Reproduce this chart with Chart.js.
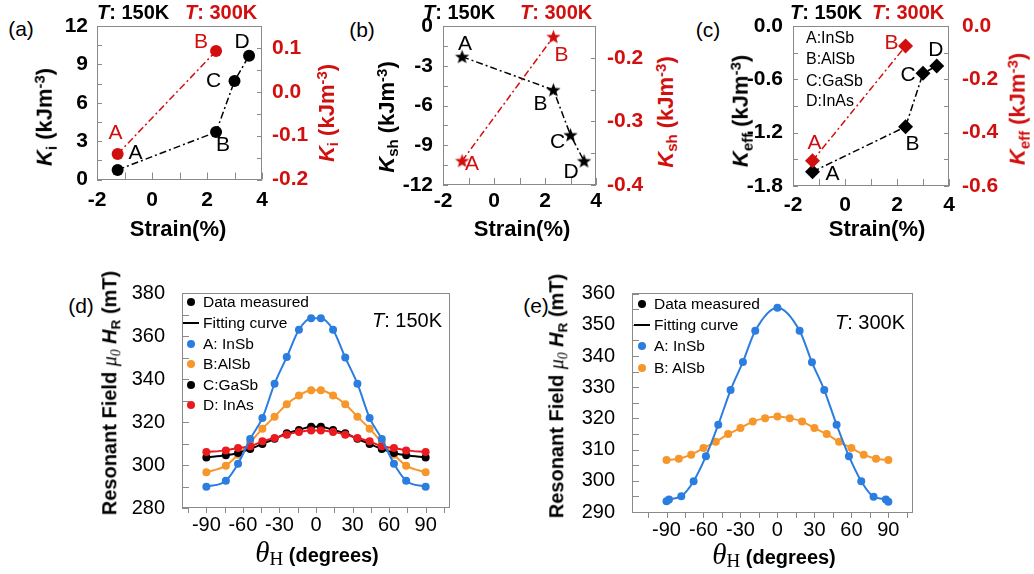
<!DOCTYPE html>
<html>
<head>
<meta charset="utf-8">
<script src="https://cdn.jsdelivr.net/npm/chart.js@4.4.0/dist/chart.umd.min.js"></script>
<style>
  html, body { margin: 0; padding: 0; background: #fff; }
  #fig { position: relative; width: 1034px; height: 574px; overflow: hidden; font-family: "Liberation Sans", Arial, sans-serif; color: #000; }
  #fig canvas { position: absolute; }
  .t { position: absolute; white-space: nowrap; line-height: 1; }
  .c { transform: translate(-50%, -50%); }
  .l { transform: translateY(-50%); }
  .rot { transform: translate(-50%, -50%) rotate(-90deg); }
  .red { color: #d20f0f; }
  .hd { font-size: 20px; font-weight: bold; }
  .pl { font-size: 21px; }
  .yt { font-size: 22px; font-weight: bold; }
  .xt { font-size: 22px; font-weight: bold; }
  .yt sub, .bt sub { font-size: 0.68em; vertical-align: -0.28em; }
  .yt sup { font-size: 0.68em; vertical-align: 0.5em; }
  .bt { font-size: 20px; font-weight: bold; }
  .mu { font-family: "Liberation Serif", "DejaVu Serif", serif; font-style: italic; font-weight: normal; }
  .th { font-family: "Liberation Serif", "DejaVu Serif", serif; font-style: italic; font-weight: normal; font-size: 29px; }
  .th sub { font-style: normal; font-size: 19px; vertical-align: -0.2em; }
  .leg { position: absolute; height: 20px; line-height: 20px; white-space: nowrap; font-size: 15.5px; }
  .mk { display: inline-block; width: 16px; height: 20px; position: relative; vertical-align: top; margin-right: 4px; }
  .dot::after { content: ""; position: absolute; left: 4px; top: 6px; width: 8px; height: 8px; border-radius: 50%; background: var(--c); }
  .bar::after { content: ""; position: absolute; left: 0; top: 9px; width: 16px; height: 2.5px; background: #000; }
  .kl { position: absolute; font-size: 16px; white-space: nowrap; line-height: 1; transform: translateY(-50%); }
</style>
</head>
<body>
<div id="fig">
  <canvas id="pa"></canvas>
  <canvas id="pb"></canvas>
  <canvas id="pc"></canvas>
  <canvas id="pd"></canvas>
  <canvas id="pe"></canvas>

  <!-- panel labels -->
  <div class="t c pl" style="left:21px;top:28px">(a)</div>
  <div class="t c pl" style="left:362px;top:29px">(b)</div>
  <div class="t c pl" style="left:708px;top:29px">(c)</div>
  <div class="t c pl" style="left:81px;top:305px">(d)</div>
  <div class="t c pl" style="left:536px;top:305px">(e)</div>

  <!-- temperature headers -->
  <div class="t l hd" style="left:97px;top:12px"><i>T</i>: 150K</div>
  <div class="t l hd red" style="left:185px;top:12px"><i>T</i>: 300K</div>
  <div class="t l hd" style="left:423px;top:12px"><i>T</i>: 150K</div>
  <div class="t l hd red" style="left:520px;top:12px"><i>T</i>: 300K</div>
  <div class="t l hd" style="left:790px;top:12px"><i>T</i>: 150K</div>
  <div class="t l hd red" style="left:872px;top:12px"><i>T</i>: 300K</div>

  <!-- top y titles -->
  <div class="t rot yt" style="left:46px;top:117px"><i>K</i><sub>i</sub> (kJm<sup>-3</sup>)</div>
  <div class="t rot yt red" style="left:328px;top:113px"><i>K</i><sub>i</sub> (kJm<sup>-3</sup>)</div>
  <div class="t rot yt" style="left:388px;top:117px"><i>K</i><sub>sh</sub> (kJm<sup>-3</sup>)</div>
  <div class="t rot yt red" style="left:667px;top:112px"><i>K</i><sub>sh</sub> (kJm<sup>-3</sup>)</div>
  <div class="t rot yt" style="left:742px;top:111px"><i>K</i><sub>eff</sub> (kJm<sup>-3</sup>)</div>
  <div class="t rot yt red" style="left:1019px;top:109px"><i>K</i><sub>eff</sub> (kJm<sup>-3</sup>)</div>

  <!-- top x titles -->
  <div class="t c xt" style="left:178px;top:229px">Strain(%)</div>
  <div class="t c xt" style="left:522px;top:229px">Strain(%)</div>
  <div class="t c xt" style="left:877px;top:229px">Strain(%)</div>

  <!-- material key in (c) -->
  <div class="kl" style="left:806px;top:37.5px">A:InSb</div>
  <div class="kl" style="left:806px;top:59px">B:AlSb</div>
  <div class="kl" style="left:806px;top:81px">C:GaSb</div>
  <div class="kl" style="left:806px;top:101px">D:InAs</div>

  <!-- bottom titles -->
  <div class="t rot bt" style="left:111px;top:393px">Resonant Field <span class="mu">μ<sub>0</sub></span> <i>H</i><sub>R</sub> (mT)</div>
  <div class="t rot bt" style="left:558px;top:396px">Resonant Field <span class="mu">μ<sub>0</sub></span> <i>H</i><sub>R</sub> (mT)</div>
  <div class="t c bt" style="left:317px;top:553px"><span class="th">θ<sub>H</sub></span> (degrees)</div>
  <div class="t c bt" style="left:774px;top:555px"><span class="th">θ<sub>H</sub></span> (degrees)</div>
  <div class="t l" style="left:372px;top:320px;font-size:20px"><i>T</i>: 150K</div>
  <div class="t l" style="left:835px;top:322px;font-size:20px"><i>T</i>: 300K</div>

  <!-- legend (d) -->
  <div class="leg" style="left:183px;top:292px"><span class="mk dot" style="--c:#000"></span>Data measured</div>
  <div class="leg" style="left:183px;top:312.5px"><span class="mk bar"></span>Fitting curve</div>
  <div class="leg" style="left:183px;top:333.5px"><span class="mk dot" style="--c:#2b7de0"></span>A: InSb</div>
  <div class="leg" style="left:183px;top:354px"><span class="mk dot" style="--c:#f7962a"></span>B:AlSb</div>
  <div class="leg" style="left:183px;top:374.5px"><span class="mk dot" style="--c:#000"></span>C:GaSb</div>
  <div class="leg" style="left:183px;top:395px"><span class="mk dot" style="--c:#ea1a1f"></span>D: InAs</div>

  <!-- legend (e) -->
  <div class="leg" style="left:634px;top:293.5px"><span class="mk dot" style="--c:#000"></span>Data measured</div>
  <div class="leg" style="left:634px;top:314.5px"><span class="mk bar"></span>Fitting curve</div>
  <div class="leg" style="left:634px;top:336px"><span class="mk dot" style="--c:#2b7de0"></span>A: InSb</div>
  <div class="leg" style="left:634px;top:357.5px"><span class="mk dot" style="--c:#f7962a"></span>B: AlSb</div>
</div>

<script>
// ---- data ----
// top row: anisotropy constants vs strain, samples A..D
const letters = ['A', 'B', 'C', 'D'];
const strain150 = [-1.25, 2.33, 3.0, 3.53];
const strain300 = [-1.25, 2.33];
const Ki150 = [0.75, 3.71, 7.7, 9.68];
const Ki300 = [-0.142, 0.093];
const Ksh150 = [-2.32, -4.83, -8.23, -10.19];
const Ksh300 = [-0.362, -0.167];
const Keff150 = [-1.64, -1.133, -0.532, -0.45];
const Keff300 = [-0.505, -0.075];

const strainTicks = [-2, 0, 2, 4];
const kiTicks = [0, 3, 6, 9, 12];
const ki300Ticks = [-0.2, -0.1, 0, 0.1];
const kshTicks = [-12, -9, -6, -3, 0];
const ksh300Ticks = [-0.4, -0.3, -0.2];
const keffTicks = [-1.8, -1.2, -0.6, 0];
const keff300Ticks = [-0.6, -0.4, -0.2, 0];

// bottom row: resonant field vs angle
const angle150 = [-90, -74, -64, -54, -44, -34, -24, -14, -4, 4, 14, 24, 34, 44, 54, 64, 74, 90];
const fieldA150 = [289.9, 292.7, 300.6, 312.1, 321.9, 337.8, 350.2, 362.9, 368.3, 368.3, 362.9, 350.0, 337.8, 321.9, 312.1, 300.6, 292.7, 289.9];
const fieldB150 = [296.6, 299.7, 304.8, 310.5, 316.9, 322.5, 328.3, 332.3, 334.8, 334.8, 332.3, 328.3, 322.5, 316.9, 310.5, 304.8, 299.7, 296.6];
const fieldC150 = [303.5, 304.5, 305.6, 307.5, 309.8, 312.2, 314.8, 316.3, 317.8, 317.8, 316.3, 314.8, 312.2, 309.8, 307.5, 305.6, 304.5, 303.5];
const fieldD150 = [306.0, 306.8, 307.9, 308.7, 311.0, 312.6, 314.1, 315.4, 316.1, 316.1, 315.4, 314.1, 312.6, 311.0, 308.7, 307.9, 306.8, 306.0];

const angleA300 = [-90, -88, -78, -68, -58, -48, -38, -28, -18, 0, 18, 28, 38, 48, 58, 68, 78, 88, 90];
const fieldA300 = [293.5, 294.0, 295.1, 299.9, 307.9, 318.0, 329.1, 338.1, 348.1, 355.5, 348.1, 338.0, 329.1, 318.0, 307.9, 299.9, 294.9, 294.0, 293.3];
const angleB300 = [-90, -80, -70, -60, -50, -40, -30, -20, -10, 0, 10, 20, 30, 40, 50, 60, 70, 80, 90];
const fieldB300 = [306.7, 307.1, 308.4, 310.5, 312.5, 315.0, 316.9, 319.0, 320.1, 320.6, 320.1, 319.0, 316.9, 315.0, 312.5, 310.5, 308.4, 307.1, 306.7];

const angleTicks = [-90, -60, -30, 0, 30, 60, 90];
const field150Ticks = [280, 300, 320, 340, 360, 380];
const field300Ticks = [290, 300, 310, 320, 330, 340, 350, 360];

// ---- styling ----
const FONT = '"Liberation Sans", Arial, sans-serif';
const RED = '#d20f0f';
const BLUE = '#2b7de0';
const ORANGE = '#f7962a';
const RED2 = '#ea1a1f';
const FRAME = '#8a8a8a';

Chart.defaults.font.family = FONT;
Chart.defaults.color = '#000';

function place(id, box) {
    const cv = document.getElementById(id);
    cv.width = box[2];
    cv.height = box[3];
    cv.style.left = box[0] + 'px';
    cv.style.top = box[1] + 'px';
    return cv;
}

function pts(xs, ys) {
    return xs.map((x, i) => ({ x: x, y: ys[i] }));
}

function starImg(color) {
    const r = 7.5, s = 17;
    const c = document.createElement('canvas');
    c.width = s; c.height = s;
    const g = c.getContext('2d');
    g.fillStyle = color;
    g.beginPath();
    for (let k = 0; k < 10; k++) {
        const rr = k % 2 ? r * 0.42 : r;
        const a = -Math.PI / 2 + k * Math.PI / 5;
        g.lineTo(s / 2 + rr * Math.cos(a), s / 2 + rr * Math.sin(a) + 0.5);
    }
    g.closePath();
    g.fill();
    return c;
}

// frame + inward/outward tick marks
const tickMarks = {
    id: 'tickMarks',
    beforeDatasetsDraw(chart, args, opts) {
        const ctx = chart.ctx, a = chart.chartArea;
        ctx.save();
        ctx.strokeStyle = FRAME;
        ctx.lineWidth = 1;
        ctx.strokeRect(Math.round(a.left) + 0.5, Math.round(a.top) + 0.5,
            Math.round(a.right - a.left) - 1, Math.round(a.bottom - a.top) - 1);
        ctx.beginPath();
        opts.marks.forEach(m => {
            const s = chart.scales[m.axis];
            for (let v = m.from; v <= m.to + 1e-9; v += m.step) {
                const p = Math.round(s.getPixelForValue(v)) + 0.5;
                if (m.axis === 'x') {
                    ctx.moveTo(p, a.bottom);
                    ctx.lineTo(p, a.bottom + (m.out ? m.len : -m.len));
                } else if (m.axis === 'y') {
                    ctx.moveTo(a.left, p);
                    ctx.lineTo(a.left + m.len, p);
                } else {
                    ctx.moveTo(a.right, p);
                    ctx.lineTo(a.right - m.len, p);
                }
            }
        });
        ctx.stroke();
        ctx.restore();
    }
};

// letters next to the points
const pointText = {
    id: 'pointText',
    afterDatasetsDraw(chart) {
        const ctx = chart.ctx;
        ctx.save();
        ctx.font = '21px ' + FONT;
        ctx.textAlign = 'center';
        ctx.textBaseline = 'middle';
        chart.data.datasets.forEach((ds, i) => {
            if (!ds.tags) return;
            ctx.fillStyle = ds.tagColor;
            chart.getDatasetMeta(i).data.forEach((pt, j) => {
                ctx.fillText(ds.tags[j], pt.x + ds.tagShift[j][0], pt.y + ds.tagShift[j][1]);
            });
        });
        ctx.restore();
    }
};

function fixedTicks(list) {
    return s => { s.ticks = list.map(v => ({ value: v })); };
}

// pin an axis to a fixed thickness and drop the label overhang padding
function pinAxis(size) {
    return s => {
        if (s.isHorizontal()) s.height = size; else s.width = size;
        s.paddingTop = 0; s.paddingBottom = 0; s.paddingLeft = 0; s.paddingRight = 0;
    };
}

function topPanel(id, box, area, p) {
    const cv = place(id, box);
    const leftW = area[0] - box[0], rightW = box[0] + box[2] - area[2];
    const topPad = area[1] - box[1], bottomH = box[1] + box[3] - area[3];
    const tickFont = { size: 21, weight: 'bold' };
    const line = { showLine: true, borderWidth: 1.5, borderDash: [7, 3, 2, 3], pointBorderWidth: 0, clip: false };
    return new Chart(cv, {
        type: 'scatter',
        data: {
            datasets: [
                Object.assign({
                    data: pts(strain300, p.y300), yAxisID: 'y2',
                    borderColor: RED, backgroundColor: RED, pointBackgroundColor: RED,
                    pointStyle: p.marker(RED), pointRadius: p.r,
                    tags: letters.slice(0, 2), tagColor: RED, tagShift: p.shift300
                }, line),
                Object.assign({
                    data: pts(strain150, p.y150), yAxisID: 'y',
                    borderColor: '#000', backgroundColor: '#000', pointBackgroundColor: '#000',
                    pointStyle: p.marker('#000'), pointRadius: p.r,
                    tags: letters, tagColor: '#000', tagShift: p.shift150
                }, line)
            ]
        },
        options: {
            responsive: false,
            animation: false,
            devicePixelRatio: 1,
            layout: { padding: { top: topPad, left: 0, right: 0, bottom: 0 } },
            plugins: {
                legend: { display: false },
                tooltip: { enabled: false },
                tickMarks: {
                    marks: [
                        { axis: 'x', from: -2, to: 4, step: 1, len: 7 },
                        { axis: 'y', from: p.yMin, to: p.yMax, step: p.yStep, len: 5 },
                        { axis: 'y2', from: p.rMin, to: p.rMax, step: p.rStep, len: 5 }
                    ]
                }
            },
            scales: {
                x: {
                    type: 'linear', position: 'bottom', min: -2, max: 4,
                    afterBuildTicks: fixedTicks(strainTicks),
                    afterFit: pinAxis(bottomH),
                    grid: { display: false, drawTicks: false }, border: { display: false },
                    ticks: { font: tickFont, color: '#000', padding: p.xPad, autoSkip: false }
                },
                y: {
                    type: 'linear', position: 'left', min: p.yMin, max: p.yMax,
                    afterBuildTicks: fixedTicks(p.yTicks),
                    afterFit: pinAxis(leftW),
                    grid: { display: false, drawTicks: false }, border: { display: false },
                    ticks: { font: tickFont, color: '#000', padding: p.yPad, autoSkip: false, callback: p.yFmt }
                },
                y2: {
                    type: 'linear', position: 'right', min: p.rMin, max: p.rMax,
                    afterBuildTicks: fixedTicks(p.rTicks),
                    afterFit: pinAxis(rightW),
                    grid: { display: false, drawTicks: false }, border: { display: false },
                    ticks: { font: tickFont, color: RED, padding: p.rPad, autoSkip: false, callback: v => v.toFixed(1) }
                }
            }
        },
        plugins: [tickMarks, pointText]
    });
}

function bottomPanel(id, box, area, p) {
    const cv = place(id, box);
    const leftW = area[0] - box[0];
    const topPad = area[1] - box[1], bottomH = box[1] + box[3] - area[3];
    const rightPad = box[0] + box[2] - area[2];
    const tickFont = { size: 20 };
    const sets = p.series.map(s => ({
        data: pts(s.x, s.y),
        showLine: true,
        cubicInterpolationMode: 'monotone',
        borderColor: s.color, backgroundColor: s.color, pointBackgroundColor: s.color,
        borderWidth: 2, pointRadius: 4, pointBorderWidth: 0, clip: false
    }));
    return new Chart(cv, {
        type: 'scatter',
        data: { datasets: sets },
        options: {
            responsive: false,
            animation: false,
            devicePixelRatio: 1,
            layout: { padding: { top: topPad, left: 0, right: rightPad, bottom: 0 } },
            plugins: {
                legend: { display: false },
                tooltip: { enabled: false },
                tickMarks: {
                    marks: [
                        { axis: 'x', from: -105, to: 105, step: 15, len: 5, out: true },
                        { axis: 'y', from: p.yTicks[0], to: p.yTicks[p.yTicks.length - 1], step: p.yStep, len: 7 }
                    ]
                }
            },
            scales: {
                x: {
                    type: 'linear', position: 'bottom', min: p.xMin, max: p.xMax,
                    afterBuildTicks: fixedTicks(angleTicks),
                    afterFit: pinAxis(bottomH),
                    grid: { display: false, drawTicks: false }, border: { display: false },
                    ticks: { font: tickFont, color: '#000', padding: p.xPad, autoSkip: false }
                },
                y: {
                    type: 'linear', position: 'left', min: p.yMin, max: p.yMax,
                    afterBuildTicks: fixedTicks(p.yTicks),
                    afterFit: pinAxis(leftW),
                    grid: { display: false, drawTicks: false }, border: { display: false },
                    ticks: { font: tickFont, color: '#000', padding: 17, autoSkip: false }
                }
            }
        },
        plugins: [tickMarks]
    });
}

// (a) Ki
topPanel('pa', [40, 8, 300, 210], [97, 26, 262, 179.5], {
    y150: Ki150, y300: Ki300,
    marker: c => 'circle', r: 6,
    yMin: 0, yMax: 12, yStep: 1.5, yTicks: kiTicks, yFmt: v => String(v), yPad: 9,
    rMin: -0.2, rMax: 0.15, rStep: 0.05, rTicks: ki300Ticks, rPad: 10,
    xPad: 8,
    shift150: [[18, -17], [7, 13], [-21, 0], [-7, -13]],
    shift300: [[-2, -21], [-15, -9]]
});

// (b) Ksh
topPanel('pb', [385, 8, 265, 210], [443, 26, 596, 185], {
    y150: Ksh150, y300: Ksh300,
    marker: c => starImg(c), r: 7,
    yMin: -12, yMax: 0, yStep: 1.5, yTicks: kshTicks, yFmt: v => String(v), yPad: 10,
    rMin: -0.4, rMax: -0.15, rStep: 0.05, rTicks: ksh300Ticks, rPad: 11,
    xPad: 4,
    shift150: [[3, -13], [-13, 14], [-13, 7], [-13, 11]],
    shift300: [[10, 3], [8, 18]]
});

// (c) Keff
topPanel('pc', [735, 8, 280, 210], [793, 26, 949, 186], {
    y150: Keff150, y300: Keff300,
    marker: c => 'rectRot', r: 7.5,
    yMin: -1.8, yMax: 0, yStep: 0.3, yTicks: keffTicks, yFmt: v => v.toFixed(1), yPad: 10,
    rMin: -0.6, rMax: 0, rStep: 0.1, rTicks: keff300Ticks, rPad: 13,
    xPad: 7,
    shift150: [[20, 2], [7, 17], [-15, 2], [-1, -16]],
    shift300: [[2, -17], [-14, -3]]
});

// (d) 150 K
bottomPanel('pd', [120, 280, 340, 290], [182, 293, 450, 508], {
    xMin: -110, xMax: 110, yMin: 280, yMax: 380, yStep: 10, yTicks: field150Ticks, xPad: 5,
    series: [
        { x: angle150, y: fieldA150, color: BLUE },
        { x: angle150, y: fieldD150, color: RED2 },
        { x: angle150, y: fieldC150, color: '#000' },
        { x: angle150, y: fieldB150, color: ORANGE }
    ]
});

// (e) 300 K
bottomPanel('pe', [570, 280, 355, 290], [632, 293, 913, 513], {
    xMin: -118, xMax: 110, yMin: 289.7, yMax: 360.2, yStep: 5, yTicks: field300Ticks, xPad: 5,
    series: [
        { x: angleA300, y: fieldA300, color: BLUE },
        { x: angleB300, y: fieldB300, color: ORANGE }
    ]
});
</script>
</body>
</html>
